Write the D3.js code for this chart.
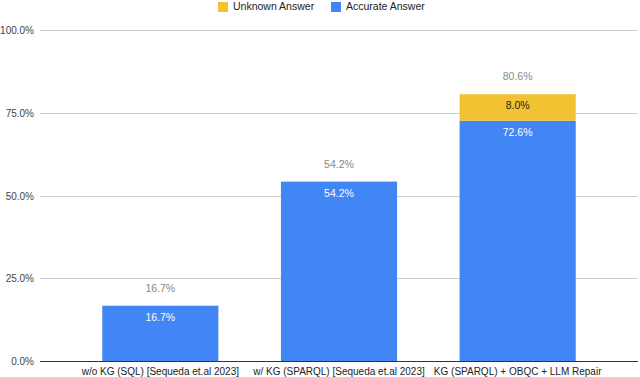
<!DOCTYPE html>
<html>
<head>
<meta charset="utf-8">
<script src="https://cdn.jsdelivr.net/npm/d3@7"></script>
<style>
  body { margin: 0; background: #fff; }
  svg { font-family: "Liberation Sans", Arial, sans-serif; }
</style>
</head>
<body>
<div id="chart"></div>
<script>
var categories = ["w/o KG (SQL) [Sequeda et.al 2023]", "w/ KG (SPARQL) [Sequeda et.al 2023]", "KG (SPARQL) + OBQC + LLM Repair"];
var accurate = [16.7, 54.2, 72.6];
var unknown = [0, 0, 8.0];
var yTicks = [0, 25, 50, 75, 100];
var seriesNames = ["Unknown Answer", "Accurate Answer"];
var colors = ["#F1C232", "#4285F4"];

var svgWidth = 640, svgHeight = 377;

var svg = d3.select("#chart").append("svg")
  .attr("width", svgWidth)
  .attr("height", svgHeight);

var y = d3.scaleLinear().domain([0, 100]).range([361, 30]);
var x = d3.scaleBand().domain(categories).range([71, 607]).paddingInner(0.35).paddingOuter(0.175);

// gridlines
svg.append("g").selectAll("line")
  .data(yTicks)
  .enter().append("line")
  .attr("x1", 40).attr("x2", 638)
  .attr("y1", d => Math.round(y(d)) + 0.5)
  .attr("y2", d => Math.round(y(d)) + 0.5)
  .attr("stroke", d => d == 0 ? "#333" : "#ccc")
  .attr("stroke-width", 1);

svg.append("g").selectAll("text")
  .data(yTicks)
  .enter().append("text")
  .attr("x", 34)
  .attr("y", d => y(d) + 4)
  .attr("text-anchor", "end")
  .style("font-size", "10px")
  .style("fill", "#444")
  .text(d => d.toFixed(1) + "%");

// bars
var bars = svg.append("g");
categories.forEach(function(c, i) {
  bars.append("rect")
    .attr("x", x(c))
    .attr("y", y(accurate[i]))
    .attr("width", x.bandwidth())
    .attr("height", y(0) - y(accurate[i]))
    .attr("fill", colors[1]);
  bars.append("text")
    .attr("x", x(c) + x.bandwidth() / 2)
    .attr("y", y(accurate[i]) + 15)
    .attr("text-anchor", "middle")
    .style("font-size", "10.5px")
    .style("fill", "#fff")
    .text(accurate[i].toFixed(1) + "%");
  if (unknown[i] > 0) {
    bars.append("rect")
      .attr("x", x(c))
      .attr("y", y(accurate[i] + unknown[i]))
      .attr("width", x.bandwidth())
      .attr("height", y(accurate[i]) - y(accurate[i] + unknown[i]))
      .attr("fill", colors[0]);
    bars.append("text")
      .attr("x", x(c) + x.bandwidth() / 2)
      .attr("y", y(accurate[i] + unknown[i]) + 15)
      .attr("text-anchor", "middle")
      .style("font-size", "10.5px")
      .style("fill", "#222")
      .text(unknown[i].toFixed(1) + "%");
  }
  var total = accurate[i] + unknown[i];
  bars.append("text")
    .attr("x", x(c) + x.bandwidth() / 2)
    .attr("y", y(total) - 14)
    .attr("text-anchor", "middle")
    .style("font-size", "10.5px")
    .style("fill", "#888")
    .text(total.toFixed(1) + "%");
});

// x labels
svg.append("g").selectAll("text")
  .data(categories)
  .enter().append("text")
  .attr("x", d => x(d) + x.bandwidth() / 2)
  .attr("y", 375)
  .attr("text-anchor", "middle")
  .style("font-size", "10px")
  .style("fill", "#222")
  .text(d => d);

// legend
var legendX = [218, 331];
var legend = svg.append("g");
seriesNames.forEach(function(s, i) {
  legend.append("rect")
    .attr("x", legendX[i]).attr("y", 2)
    .attr("width", 10).attr("height", 10)
    .attr("fill", colors[i]);
  legend.append("text")
    .attr("x", legendX[i] + 15).attr("y", 10)
    .style("font-size", "10.5px")
    .style("fill", "#222")
    .text(s);
});
</script>
</body>
</html>
